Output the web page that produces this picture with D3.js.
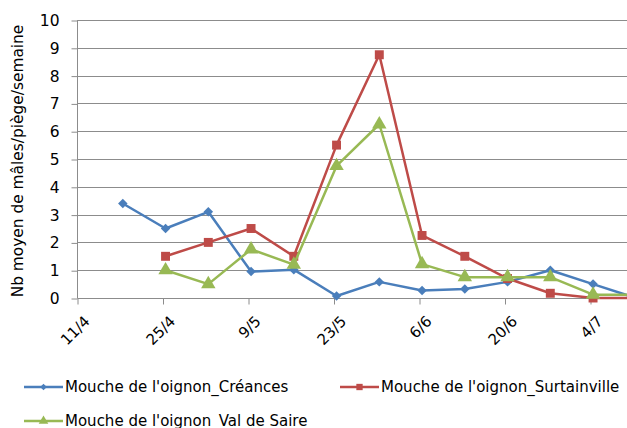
<!DOCTYPE html>
<html>
<head>
<meta charset="utf-8">
<script src="https://cdn.jsdelivr.net/npm/d3@7"></script>
<style>
  body { margin: 0; background: #fff; }
  svg { display: block; font-family: "DejaVu Sans", Verdana, sans-serif; }
</style>
</head>
<body>
<div id="chart"></div>
<script>
// Weekly trap counts (dates are day/month)
const dates = ["18/4", "25/4", "2/5", "9/5", "16/5", "23/5", "30/5", "6/6", "13/6", "20/6", "27/6", "4/7", "11/7"];
const creances = [3.4, 2.5, 3.1, 0.95, 1.02, 0.07, 0.58, 0.27, 0.32, 0.58, 1.0, 0.5, 0.0];
const surtainville = [null, 1.5, 2.0, 2.5, 1.5, 5.5, 8.75, 2.25, 1.5, 0.7, 0.17, 0.0, 0.0];
const valDeSaire = [null, 1.0, 0.5, 1.75, 1.2, 4.75, 6.25, 1.22, 0.75, 0.75, 0.75, 0.12, 0.12];
const xTicks = ["11/4", "25/4", "9/5", "23/5", "6/6", "20/6", "4/7"];
const yTicks = [0, 1, 2, 3, 4, 5, 6, 7, 8, 9, 10];

const series = [
    { name: "Mouche de l'oignon_Créances", values: creances, color: "#4a7ebb", marker: "diamond" },
    { name: "Mouche de l'oignon_Surtainville", values: surtainville, color: "#be4b48", marker: "square" },
    { name: "Mouche de l'oignon_Val de Saire", values: valDeSaire, color: "#98b954", marker: "triangle" }
];

const width = 627, height = 428;
const parseDay = s => {
    const [d, m] = s.split("/").map(Number);
    return new Date(2013, m - 1, d);
};
// points sit in the middle of their day slot
const midDay = s => d3.timeHour.offset(parseDay(s), 12);

const svg = d3.select("#chart").append("svg")
    .attr("width", width)
    .attr("height", height);

const x = d3.scaleTime()
    .domain([parseDay("11/4"), parseDay("18/7")])
    .range([77, 77 + 85.5 * 7]);
const y = d3.scaleLinear()
    .domain([0, 10])
    .range([298, 20]);

// Gridlines
svg.append("g")
    .selectAll("line")
    .data(yTicks.slice(1))
    .enter()
    .append("line")
    .attr("x1", 77)
    .attr("x2", width)
    .attr("y1", d => Math.round(y(d)) + 0.5)
    .attr("y2", d => Math.round(y(d)) + 0.5)
    .attr("stroke", "#8c8c8c")
    .attr("stroke-width", 1);

// Y axis
const yAxis = svg.append("g")
    .attr("transform", "translate(77.5,0.5)")
    .call(d3.axisLeft(y).tickValues(yTicks).tickSize(6).tickPadding(12));
yAxis.select(".domain").attr("stroke", "#8c8c8c").attr("d", `M0,${y(10)}V${y(0)}`);
yAxis.selectAll(".tick line").attr("stroke", "#8c8c8c");
yAxis.selectAll(".tick text")
    .attr("fill", "#000")
    .style("font-size", "15.5px")
    .style("font-family", "DejaVu Sans, Verdana, sans-serif");

svg.append("text")
    .attr("transform", `translate(23,${(y(0) + y(10)) / 2 + 2}) rotate(-90)`)
    .attr("text-anchor", "middle")
    .style("font-size", "15.4px")
    .text("Nb moyen de mâles/piège/semaine");

// X axis
const xAxis = svg.append("g")
    .attr("transform", `translate(0.5,${Math.round(y(0)) + 0.5})`)
    .call(d3.axisBottom(x)
        .tickValues(xTicks.map(parseDay))
        .tickSize(6)
        .tickFormat(d3.timeFormat("%-d/%-m")));
xAxis.select(".domain").attr("stroke", "#8c8c8c").attr("d", `M77,0H${width}`);
xAxis.selectAll(".tick line").attr("stroke", "#8c8c8c");
xAxis.selectAll(".tick text")
    .attr("fill", "#000")
    .style("font-size", "15px")
    .style("font-family", "DejaVu Sans, Verdana, sans-serif")
    .attr("text-anchor", "end")
    .attr("y", 0)
    .attr("dy", "0.35em")
    .attr("transform", "translate(9,20) rotate(-45)");

// Markers: the diamond is a square turned 45 degrees
const symbols = { diamond: d3.symbolSquare, square: d3.symbolSquare, triangle: d3.symbolTriangle };
const markerSize = { diamond: 45, square: 80, triangle: 90 };
const markerRot = { diamond: 45, square: 0, triangle: 0 };

const line = d3.line()
    .defined(d => d.v !== null)
    .x(d => x(midDay(d.date)))
    .y(d => y(d.v));

series.forEach(s => {
    const pts = dates.map((date, i) => ({ date, v: s.values[i] }));
    const g = svg.append("g");
    g.append("path")
        .datum(pts)
        .attr("d", line)
        .attr("fill", "none")
        .attr("stroke", s.color)
        .attr("stroke-width", 2.5)
        .attr("stroke-linejoin", "round");
    g.selectAll("path.pt")
        .data(pts.filter(d => d.v !== null))
        .enter()
        .append("path")
        .attr("class", "pt")
        .attr("d", d3.symbol().type(symbols[s.marker]).size(markerSize[s.marker]))
        .attr("transform", d =>
            `translate(${x(midDay(d.date))},${y(d.v)}) rotate(${markerRot[s.marker]})`)
        .attr("fill", s.color);
});

// Legend
const legendPos = [
    { x: 24, y: 387 },
    { x: 340, y: 387 },
    { x: 24, y: 421 }
];
series.forEach((s, i) => {
    const p = legendPos[i];
    const g = svg.append("g").attr("transform", `translate(${p.x},${p.y})`);
    g.append("line")
        .attr("x1", 0).attr("x2", 39)
        .attr("stroke", s.color)
        .attr("stroke-width", 2.5);
    g.append("path")
        .attr("d", d3.symbol().type(symbols[s.marker]).size(s.marker === "diamond" ? 22 : 40))
        .attr("transform", `translate(19.5,0) rotate(${markerRot[s.marker]})`)
        .attr("fill", s.color);
    g.append("text")
        .attr("x", 41)
        .attr("dy", "0.35em")
        .style("font-size", "15px")
        .text(s.name);
});
</script>
</body>
</html>
